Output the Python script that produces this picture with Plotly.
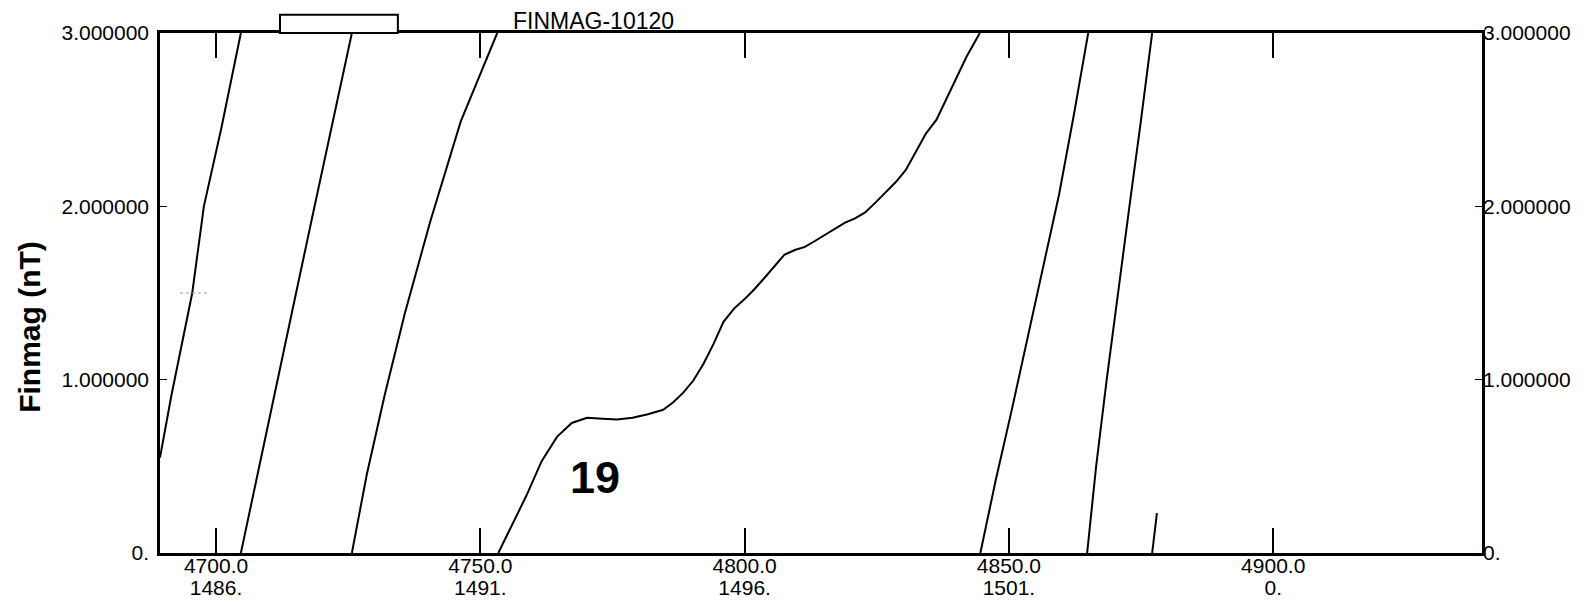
import plotly.graph_objects as go

# ---- data ----
tick_vals = [4700, 4750, 4800, 4850, 4900]
tick_text_top = ["4700.0", "4750.0", "4800.0", "4850.0", "4900.0"]
tick_text_bottom = ["1486.", "1491.", "1496.", "1501.", "0."]
y_tick_vals = [0, 1, 2, 3]
y_tick_text = ["0.", "1.000000", "2.000000", "3.000000"]

line_a_x = [4689.4, 4691.5, 4695.5, 4697.7, 4701.0, 4704.7]
line_a_y = [0.55, 0.90, 1.50, 2.00, 2.45, 3.00]

line_b_x = [4704.7, 4708.0, 4711.5, 4715.0, 4718.5, 4722.2, 4725.7]
line_b_y = [0.0, 0.48, 0.98, 1.48, 1.98, 2.50, 3.00]

line_c_x = [4725.7, 4728.5, 4731.9, 4735.7, 4740.5, 4746.3, 4753.2]
line_c_y = [0.0, 0.45, 0.91, 1.38, 1.91, 2.49, 3.00]

curve19_x = [4753.4, 4755.8, 4758.7, 4761.6, 4764.5, 4767.3, 4770.2, 4773.1, 4775.9,
             4778.8, 4781.7, 4784.6, 4786.5, 4788.4, 4790.3, 4792.2, 4794.1, 4796.0,
             4798.0, 4799.9, 4801.8, 4803.7, 4805.6, 4807.5, 4809.5, 4811.4, 4813.3,
             4815.2, 4817.1, 4819.0, 4820.9, 4822.8, 4824.8, 4826.7, 4828.6, 4830.5,
             4832.4, 4834.3, 4836.3, 4838.2, 4840.1, 4842.0, 4844.5]
curve19_y = [0.00, 0.15, 0.33, 0.53, 0.67, 0.75, 0.78, 0.775, 0.77,
             0.78, 0.80, 0.826, 0.87, 0.925, 0.995, 1.09, 1.205, 1.334,
             1.41, 1.462, 1.52, 1.585, 1.655, 1.72, 1.748, 1.766, 1.80,
             1.836, 1.871, 1.906, 1.93, 1.965, 2.023, 2.08, 2.14, 2.21,
             2.315, 2.42, 2.50, 2.62, 2.735, 2.864, 3.00]

line_e_x = [4844.6, 4847.5, 4850.5, 4853.5, 4856.5, 4859.5, 4862.3, 4865.0]
line_e_y = [0.0, 0.42, 0.82, 1.23, 1.65, 2.07, 2.53, 3.00]

line_f_x = [4864.8, 4866.5, 4868.5, 4870.6, 4872.8, 4875.0, 4877.1]
line_f_y = [0.0, 0.5, 1.0, 1.5, 2.0, 2.5, 3.0]

short_x = [4877.1, 4878.0]
short_y = [0.0, 0.23]

x_range = [4689.4, 4939.5]
y_range = [0, 3]

# ---- figure ----
fig = go.Figure()
line_style = dict(color="black", width=2)
for xs, ys in [(line_a_x, line_a_y), (line_b_x, line_b_y), (line_c_x, line_c_y),
               (curve19_x, curve19_y), (line_e_x, line_e_y), (line_f_x, line_f_y)]:
    fig.add_trace(go.Scatter(x=xs, y=ys, mode="lines", line=line_style,
                             showlegend=False, hoverinfo="skip"))
fig.add_trace(go.Scatter(x=short_x, y=short_y, mode="lines", line=line_style,
                         showlegend=False, hoverinfo="skip", xaxis="x2", yaxis="y2"))

FONT = "Liberation Sans, Arial, sans-serif"
x_tick_font = dict(family=FONT, size=21, color="black")
y_tick_font = dict(family=FONT, size=21, color="black")

fig.update_layout(
    width=1579, height=595,
    margin=dict(l=152, r=105, t=25, b=50),
    paper_bgcolor="white", plot_bgcolor="white",
    xaxis=dict(range=x_range, tickvals=tick_vals, ticktext=tick_text_top,
               ticks="inside", ticklen=25, tickwidth=2, tickcolor="black",
               showline=True, linecolor="black", linewidth=2.5, mirror="ticks",
               showgrid=False, zeroline=False, tickfont=x_tick_font, automargin=False,
               ticklabelstandoff=-8),
    xaxis2=dict(range=x_range, tickvals=tick_vals, ticktext=tick_text_bottom,
                overlaying="x", side="bottom", anchor="y2",
                ticks="", showline=False, showgrid=False, zeroline=False,
                tickfont=x_tick_font, automargin=False, ticklabelstandoff=20),
    yaxis=dict(range=y_range, tickvals=y_tick_vals, ticktext=y_tick_text,
               ticks="inside", ticklen=7, tickwidth=1, tickcolor="black",
               showline=True, linecolor="black", linewidth=2.5, mirror=True,
               showgrid=False, zeroline=False, tickfont=y_tick_font, automargin=False,
               ticklabelstandoff=4),
    yaxis2=dict(range=y_range, tickvals=y_tick_vals, ticktext=y_tick_text,
                overlaying="y", side="right", anchor="x2",
                ticks="inside", ticklen=7, tickwidth=1, tickcolor="black",
                showline=False, showgrid=False, zeroline=False,
                tickfont=y_tick_font, automargin=False),
    annotations=[
        dict(text="<b>Finmag (nT)</b>", xref="paper", yref="paper", x=0, y=0.435,
             xanchor="center", yanchor="middle", xshift=-130, textangle=-90,
             showarrow=False, font=dict(family=FONT, size=30, color="black")),
        dict(text="<b>19</b>", xref="x", yref="y", x=4771.6, y=0.433,
             xanchor="center", yanchor="middle", showarrow=False,
             font=dict(family=FONT, size=45, color="black")),
        dict(text="FINMAG-10120", xref="x", yref="paper", x=4755.8, y=1.0,
             xanchor="left", yanchor="bottom", yshift=-3, showarrow=False,
             font=dict(family=FONT, size=23, color="black")),
    ],
    shapes=[
        dict(type="rect", xref="x", yref="paper", x0=4712.1, x1=4734.4, y0=1.0, y1=1.035,
             line=dict(color="black", width=2), fillcolor="white"),
        dict(type="line", xref="x", yref="y", x0=4693.2, x1=4698.5, y0=1.5, y1=1.5,
             line=dict(color="#999999", width=1, dash="dot")),
    ],
)

fig.write_html("out.html")
